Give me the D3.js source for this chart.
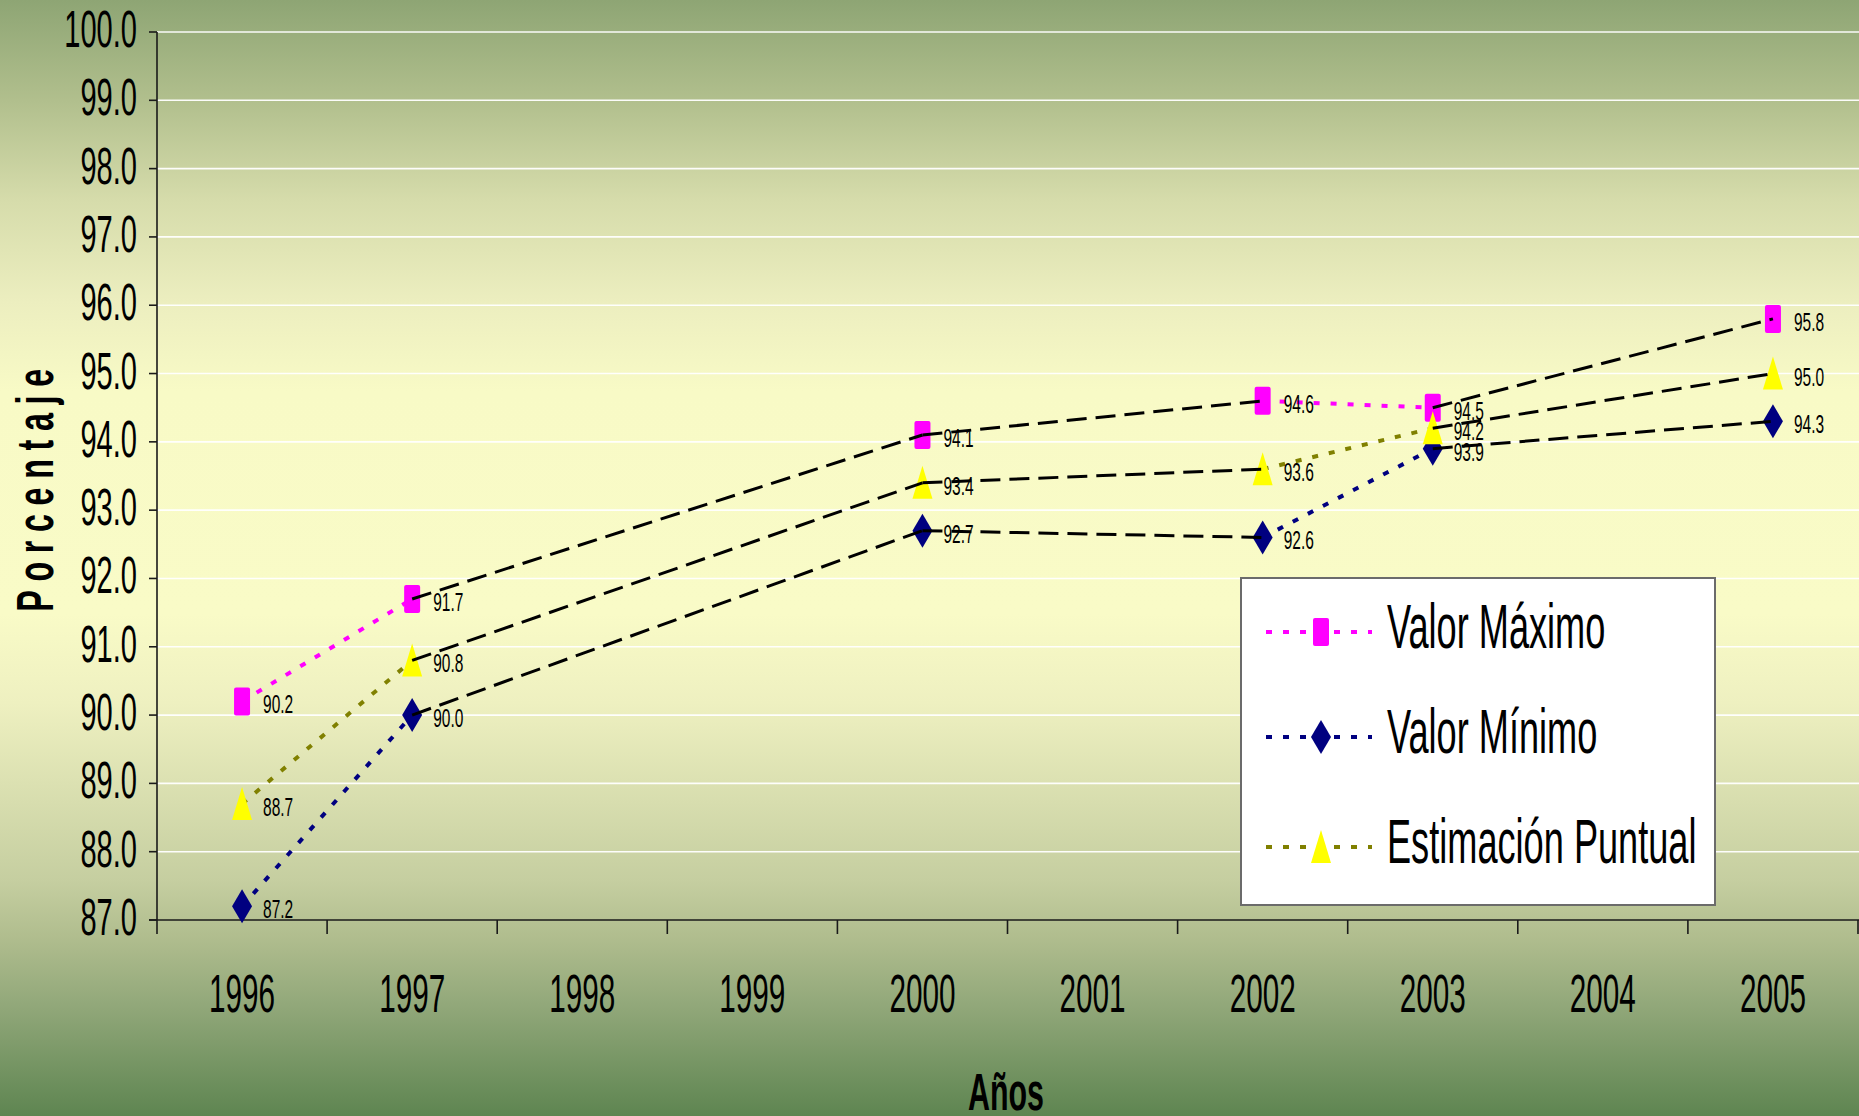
<!DOCTYPE html>
<html>
<head>
<meta charset="utf-8">
<script src="https://cdn.jsdelivr.net/npm/d3@7"></script>
<style>
  html, body { margin: 0; padding: 0; background: #ffffff; }
  svg { display: block; }
  text { font-family: "Liberation Sans", Arial, sans-serif; fill: #000; }
</style>
</head>
<body>
<svg id="chart" width="1859" height="1116"></svg>
<script>
// ---------------- data ----------------
const years = ["1996", "1997", "1998", "1999", "2000", "2001", "2002", "2003", "2004", "2005"];
const maxVals = [90.2, 91.7, null, null, 94.1, null, 94.6, 94.5, null, 95.8];
const minVals = [87.2, 90.0, null, null, 92.7, null, 92.6, 93.9, null, 94.3];
const estVals = [88.7, 90.8, null, null, 93.4, null, 93.6, 94.2, null, 95.0];
const yTicks = [87, 88, 89, 90, 91, 92, 93, 94, 95, 96, 97, 98, 99, 100];
const seriesNames = ["Valor Máximo", "Valor Mínimo", "Estimación Puntual"];
const xTitle = "Años";
const yTitle = "Porcentaje";

(function () {
// ---------------- setup ----------------
const W = 1859, H = 1116;
const svg = d3.select("#chart");
const pL = 157, pR = 1858, pT = 32, pB = 920;

const x = d3.scaleBand().domain(years).range([pL, pR]).paddingInner(0).paddingOuter(0);
const y = d3.scaleLinear().domain([87, 100]).range([pB, pT]);
const cx = d => x(d) + x.bandwidth() / 2;

// background gradient
const defs = svg.append("defs");
const grad = defs.append("linearGradient").attr("id", "bg").attr("x1", 0).attr("y1", 0).attr("x2", 0).attr("y2", 1);
[[0, "#8ea574"], [0.09, "#b1bf8d"], [0.18, "#d6dcab"], [0.27, "#eceebf"], [0.35, "#f8fac6"],
 [0.55, "#f9fbc7"], [0.63, "#eef0c0"], [0.79, "#c5cea0"], [0.84, "#b0bd8e"], [0.9, "#92a87a"], [1, "#5e8551"]]
  .forEach(([o, c]) => grad.append("stop").attr("offset", o).attr("stop-color", c));
svg.append("rect").attr("width", W).attr("height", H).attr("fill", "url(#bg)");

// compressed text helper
function ctext(g, str, px, py, size, sx, anchor, weight) {
  return g.append("text")
    .attr("transform", `translate(${px},${py}) scale(${sx},1)`)
    .attr("font-size", size)
    .attr("text-anchor", anchor || "start")
    .attr("font-weight", weight || "normal")
    .text(str);
}

// gridlines
svg.append("g").selectAll("line").data(yTicks.filter(t => t > 87)).join("line")
  .attr("x1", pL).attr("x2", W).attr("y1", d => y(d)).attr("y2", d => y(d))
  .attr("stroke", "#ffffff").attr("stroke-width", 1.6).attr("stroke-opacity", 0.95);

// axes
const axG = svg.append("g").attr("stroke", "#1a1a1a").attr("stroke-width", 1.6);
axG.append("line").attr("x1", pL).attr("x2", pL).attr("y1", pT).attr("y2", pB + 14);
axG.append("line").attr("x1", pL - 8).attr("x2", W).attr("y1", pB).attr("y2", pB);
axG.selectAll(".yt").data(yTicks).join("line").attr("class", "yt")
  .attr("x1", pL - 8).attr("x2", pL).attr("y1", d => y(d)).attr("y2", d => y(d));
axG.selectAll(".xt").data(years).join("line").attr("class", "xt")
  .attr("x1", d => x(d) + x.bandwidth()).attr("x2", d => x(d) + x.bandwidth())
  .attr("y1", pB).attr("y2", pB + 14);

// tick labels
const tl = svg.append("g");
yTicks.forEach(t => ctext(tl, t.toFixed(1), 137, y(t) + 15, 51, 0.57, "end"));
years.forEach(yr => ctext(tl, yr, cx(yr), 1012, 54, 0.55, "middle"));

// axis titles
ctext(svg, xTitle, 1006, 1110, 52, 0.585, "middle", "bold");
svg.append("text")
  .attr("transform", `translate(53,486) rotate(-90) scale(0.62,1)`)
  .attr("font-size", 52).attr("font-weight", "bold").attr("text-anchor", "middle")
  .attr("letter-spacing", 14)
  .text(yTitle);

// series definitions
const series = [
  { name: seriesNames[0], vals: maxVals, line: "#ff00ff", fill: "#ff00ff", shape: "square" },
  { name: seriesNames[1], vals: minVals, line: "#000080", fill: "#000080", shape: "diamond" },
  { name: seriesNames[2], vals: estVals, line: "#808000", fill: "#ffff00", shape: "triangle" }
];

function shapePath(shape) {
  if (shape === "square") {
    const w = 8, h = 14, r = 2;
    return `M${-w + r},${-h} H${w - r} Q${w},${-h} ${w},${-h + r} V${h - r} Q${w},${h} ${w - r},${h} H${-w + r} Q${-w},${h} ${-w},${h - r} V${-h + r} Q${-w},${-h} ${-w + r},${-h} Z`;
  }
  if (shape === "diamond") return "M0,-17 L10,0 L0,17 L-10,0 Z";
  return "M0,-17 L10,16 L-10,16 Z";
}

const line = d3.line().defined(d => d.v != null).x(d => cx(d.yr)).y(d => y(d.v));

// colored dotted series lines (break at missing years)
series.forEach(s => {
  const pts = years.map((yr, i) => ({ yr, v: s.vals[i] }));
  svg.append("path").datum(pts).attr("d", line)
    .attr("fill", "none").attr("stroke", s.line).attr("stroke-width", 4)
    .attr("stroke-dasharray", "6,11");
});

// markers
series.forEach(s => {
  const pts = years.map((yr, i) => ({ yr, v: s.vals[i] })).filter(d => d.v != null);
  svg.append("g").selectAll("path").data(pts).join("path")
    .attr("transform", d => `translate(${cx(d.yr)},${y(d.v)})`)
    .attr("d", shapePath(s.shape)).attr("fill", s.fill);
});

// data labels
const lg = svg.append("g");
series.forEach(s => {
  years.forEach((yr, i) => {
    const v = s.vals[i];
    if (v == null) return;
    ctext(lg, v.toFixed(1), cx(yr) + 21, y(v) + 12, 25, 0.62, "start");
  });
});

// black dashed connectors across gaps of missing years
series.forEach(s => {
  const idx = s.vals.map((v, i) => v != null ? i : -1).filter(i => i >= 0);
  for (let k = 0; k < idx.length - 1; k++) {
    const a = idx[k], b = idx[k + 1];
    if (b - a > 1) {
      svg.append("line")
        .attr("x1", cx(years[a])).attr("y1", y(s.vals[a]))
        .attr("x2", cx(years[b])).attr("y2", y(s.vals[b]))
        .attr("stroke", "#000").attr("stroke-width", 3).attr("stroke-dasharray", "20,9");
    }
  }
});

// legend
const leg = svg.append("g");
leg.append("rect").attr("x", 1241).attr("y", 578).attr("width", 474).attr("height", 327)
  .attr("fill", "#ffffff").attr("stroke", "#6b6b6b").attr("stroke-width", 2);
const legRows = [632, 737, 847];
series.forEach((s, i) => {
  const ly = legRows[i];
  leg.append("line").attr("x1", 1266).attr("x2", 1372).attr("y1", ly).attr("y2", ly)
    .attr("stroke", s.line).attr("stroke-width", 4).attr("stroke-dasharray", "6,11");
  leg.append("path").attr("transform", `translate(1321,${ly})`).attr("d", shapePath(s.shape)).attr("fill", s.fill);
  ctext(leg, s.name, 1387, ly + 16, 63, 0.574, "start");
});
})();
</script>
</body>
</html>
